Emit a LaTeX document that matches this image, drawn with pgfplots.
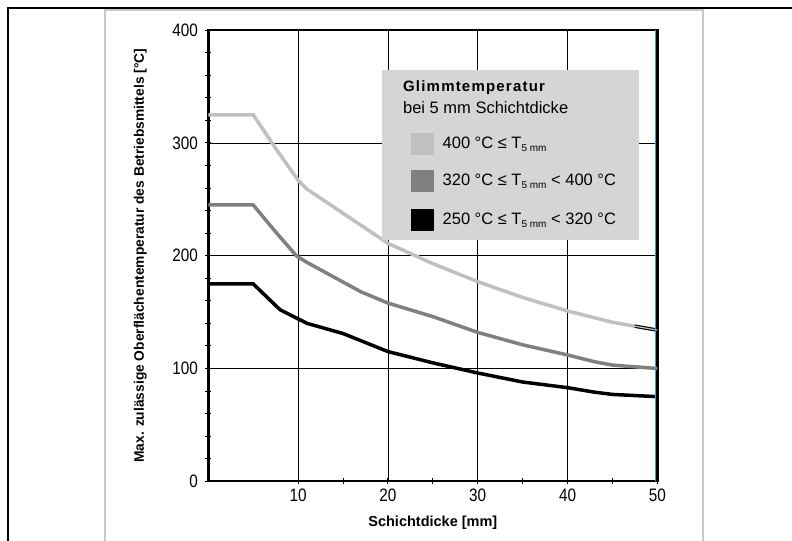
\documentclass[border=0pt]{standalone}
\usepackage{pgfplots}
\pgfplotsset{compat=1.18}
\usepackage{fontspec}
\setmainfont{Liberation Sans}
\newfontfamily\narrowfont[FakeStretch=0.85]{Liberation Sans}
\definecolor{lightcurve}{RGB}{192,192,192}
\definecolor{midcurve}{RGB}{128,128,128}
\definecolor{legbg}{RGB}{213,213,215}
\definecolor{framegray}{RGB}{200,200,200}
\definecolor{edgecyan}{RGB}{40,170,210}

\newcommand{\Tsub}{T\raisebox{-0.35ex}{\fontsize{10bp}{10bp}\selectfont 5 mm}}

\begin{document}
\begin{tikzpicture}[x=1bp,y=1bp]
  \path[use as bounding box] (0,0) rectangle (792,541);
  % outer frames
  \draw[framegray, line width=1.5bp] (105,0) -- (105,531) -- (703,531) -- (703,0);
  \draw[black, line width=2bp] (8,0) -- (8,533) -- (792,533);

  \begin{axis}[
      at={(232,53)}, anchor=origin,
      scale only axis,
      width=449bp, height=451bp,
      xmin=0, xmax=50, ymin=0, ymax=400,
      xtick={10,20,30,40,50},
      ytick={0,100,200,300,400},
      minor x tick num=1,
      minor y tick num=4,
      tick pos=left,
      tick align=center,
      major tick length=6bp, minor tick length=6bp,
      tick style={black, line width=1bp},
      grid=major,
      major grid style={black, line width=0.7bp},
      axis line style={black, line width=2.5bp},
      /pgf/number format/assume math mode=true,
      xticklabel style={font=\narrowfont\fontsize{18bp}{18bp}\selectfont, yshift=-1bp},
      yticklabel style={font=\narrowfont\fontsize{18bp}{18bp}\selectfont, xshift=-4bp},
      xlabel={Schichtdicke [mm]},
      ylabel={Max. zulässige Oberflächentemperatur des Betriebsmittels [°C]},
      xlabel style={font=\bfseries\fontsize{14.5bp}{14.5bp}\selectfont,
                    at={(axis description cs:0.5,0)}, anchor=center, yshift=-42bp},
      ylabel style={font=\bfseries\fontsize{13.8bp}{13.8bp}\selectfont,
                    at={(axis description cs:0,0.5)}, anchor=center, yshift=68bp},
      clip=false,
    ]

    % light gray: 400 C <= T5mm
    \addplot[lightcurve, line width=3.5bp] coordinates {
      (0,325) (5,325) (7.6,294) (10,267) (11,259) (14,243) (17,227)
      (20,211) (25,193) (30,177) (35,163) (40,151) (43,145) (45,141)
      (47.5,137.5)
    };
    % end segment drawn as double black line
    \addplot[black, line width=3.5bp] coordinates {(47.5,137.5) (50,134)};
    \addplot[lightcurve, line width=1.2bp] coordinates {(47.5,137.5) (50,134)};

    % medium gray: 320 C <= T5mm < 400 C
    \addplot[midcurve, line width=3.5bp] coordinates {
      (0,245) (5,245) (7.4,222) (9.8,200) (11,194) (14,181) (17,168)
      (20,158) (25,146) (30,132) (35,121) (40,112) (43,106) (45,103)
      (50,100)
    };

    % black: 250 C <= T5mm < 320 C
    \addplot[black, line width=3.5bp] coordinates {
      (0,175) (5,175) (8,152) (10,144) (11,140) (15,131) (20,115)
      (25,105) (30,96) (35,88) (40,83) (43,79) (45,77) (50,75)
    };

    % right edge tint
    \draw[edgecyan, line width=0.8bp] ([xshift=-1.6bp]axis cs:50,0) -- ([xshift=-1.6bp]axis cs:50,400);

    % legend box
    \fill[legbg] (axis cs:19.3,214) rectangle (axis cs:48,365);
    \node[anchor=west, font=\bfseries\fontsize{15bp}{15bp}\selectfont\addfontfeature{LetterSpace=8}]
      at (axis cs:21.3,349) {Glimmtemperatur};
    \node[anchor=west, font=\fontsize{16.5bp}{16.5bp}\selectfont]
      at (axis cs:21.3,331.5) {bei 5 mm Schichtdicke};
    \fill[lightcurve] (axis cs:22.6,289.1) rectangle (axis cs:25.1,308.6);
    \fill[midcurve] (axis cs:22.6,256.3) rectangle (axis cs:25.1,275.8);
    \fill[black] (axis cs:22.6,221.7) rectangle (axis cs:25.1,241.2);
    \node[anchor=west, font=\fontsize{16.5bp}{16.5bp}\selectfont]
      at (axis cs:25.7,299) {400 °C ≤ \Tsub};
    \node[anchor=west, font=\fontsize{16.5bp}{16.5bp}\selectfont]
      at (axis cs:25.7,266) {320 °C ≤ \Tsub{} < 400 °C};
    \node[anchor=west, font=\fontsize{16.5bp}{16.5bp}\selectfont]
      at (axis cs:25.7,231.5) {250 °C ≤ \Tsub{} < 320 °C};
  \end{axis}
\end{tikzpicture}
\end{document}
